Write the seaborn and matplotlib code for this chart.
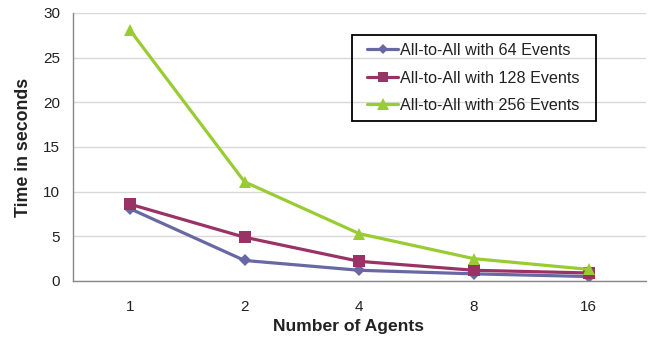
import matplotlib
matplotlib.use("Agg")
import matplotlib.pyplot as plt
import seaborn as sns
import pandas as pd
import numpy as np
from matplotlib.lines import Line2D
from matplotlib.patches import Rectangle

agents = ["1", "2", "4", "8", "16"]
series_names = ["All-to-All with 64 Events", "All-to-All with 128 Events", "All-to-All with 256 Events"]
ev64 = [8.1, 2.3, 1.2, 0.8, 0.5]
ev128 = [8.6, 4.9, 2.2, 1.2, 0.9]
ev256 = [28.1, 11.1, 5.3, 2.5, 1.3]
y_ticks = [0, 5, 10, 15, 20, 25, 30]

sns.set_theme(style="white")
plt.rcParams['font.family'] = ['Liberation Sans', 'DejaVu Sans']

rows = []
for name, vals in zip(series_names, [ev64, ev128, ev256]):
    for i, (a, v) in enumerate(zip(agents, vals)):
        rows.append({"pos": i, "Agents": a, "Time": v, "Series": name})
df = pd.DataFrame(rows)

colors = {series_names[0]: "#6868A4", series_names[1]: "#993366", series_names[2]: "#99CC33"}
markers = {series_names[0]: "D", series_names[1]: "s", series_names[2]: "^"}
msizes = {series_names[0]: 6, series_names[1]: 8, series_names[2]: 9}

W, H = 650, 337
fig = plt.figure(figsize=(6.5, 3.37), dpi=100)
ax = fig.add_axes([72.5 / W, 1 - 281 / H, (646 - 72.5) / W, (281 - 13) / H])

sns.lineplot(data=df, x="pos", y="Time", hue="Series", style="Series",
             palette=colors, markers=markers, dashes=False, linewidth=2.3,
             markersize=8, markeredgewidth=0, ax=ax, legend=False)
for line, name in zip(ax.lines, series_names):
    line.set_markersize(msizes[name])

ax.set_xlim(-0.5, 4.5)
ax.set_ylim(0, 30)
ax.set_yticks(y_ticks)
ax.set_xticks(range(len(agents)))
ax.set_xticklabels(agents)
ax.set_xticks(np.arange(-0.5, 4.6, 1.0), minor=True)
ax.tick_params(axis="x", which="major", length=0, pad=14, labelsize=11, colors="#222222")
ax.tick_params(axis="x", which="minor", length=5, width=0.8, color="#999999", direction="out")
ax.tick_params(axis="y", which="major", length=5, width=0.8, color="#999999", labelsize=11,
               labelcolor="#222222", pad=4)
ax.yaxis.grid(True, color="#d9d9d9", linewidth=1)
ax.set_axisbelow(True)
for s in ["top", "right"]:
    ax.spines[s].set_visible(False)
for s in ["left", "bottom"]:
    ax.spines[s].set_color("#888888")
    ax.spines[s].set_linewidth(1)

ax.set_xlabel("Number of Agents", fontsize=12.6, fontweight="bold", color="#222222", labelpad=3)
ax.xaxis.set_label_coords(0.481, -0.14)
ax.set_ylabel("Time in seconds", fontsize=12.8, fontweight="bold", color="#222222", labelpad=8)

handles = [Line2D([], [], color=colors[n], marker=markers[n], markersize=msizes[n] * 0.9,
                  markeredgewidth=0, linewidth=2.3) for n in series_names]
leg = fig.legend(handles, series_names, loc="upper left",
                 bbox_to_anchor=(367 / W, 1 - 43 / H), bbox_transform=fig.transFigure,
                 frameon=False, fontsize=11.6, borderaxespad=0, borderpad=0,
                 handlelength=1.95, handletextpad=0.1, labelspacing=0.78)
for t in leg.get_texts():
    t.set_color("#222222")
fig.patches.append(Rectangle((352 / W, 1 - 121 / H), (596 - 352) / W, (121 - 35) / H,
                             transform=fig.transFigure, fill=False, edgecolor="black",
                             linewidth=1.3, zorder=5))

fig.savefig("out.png", dpi=100)
